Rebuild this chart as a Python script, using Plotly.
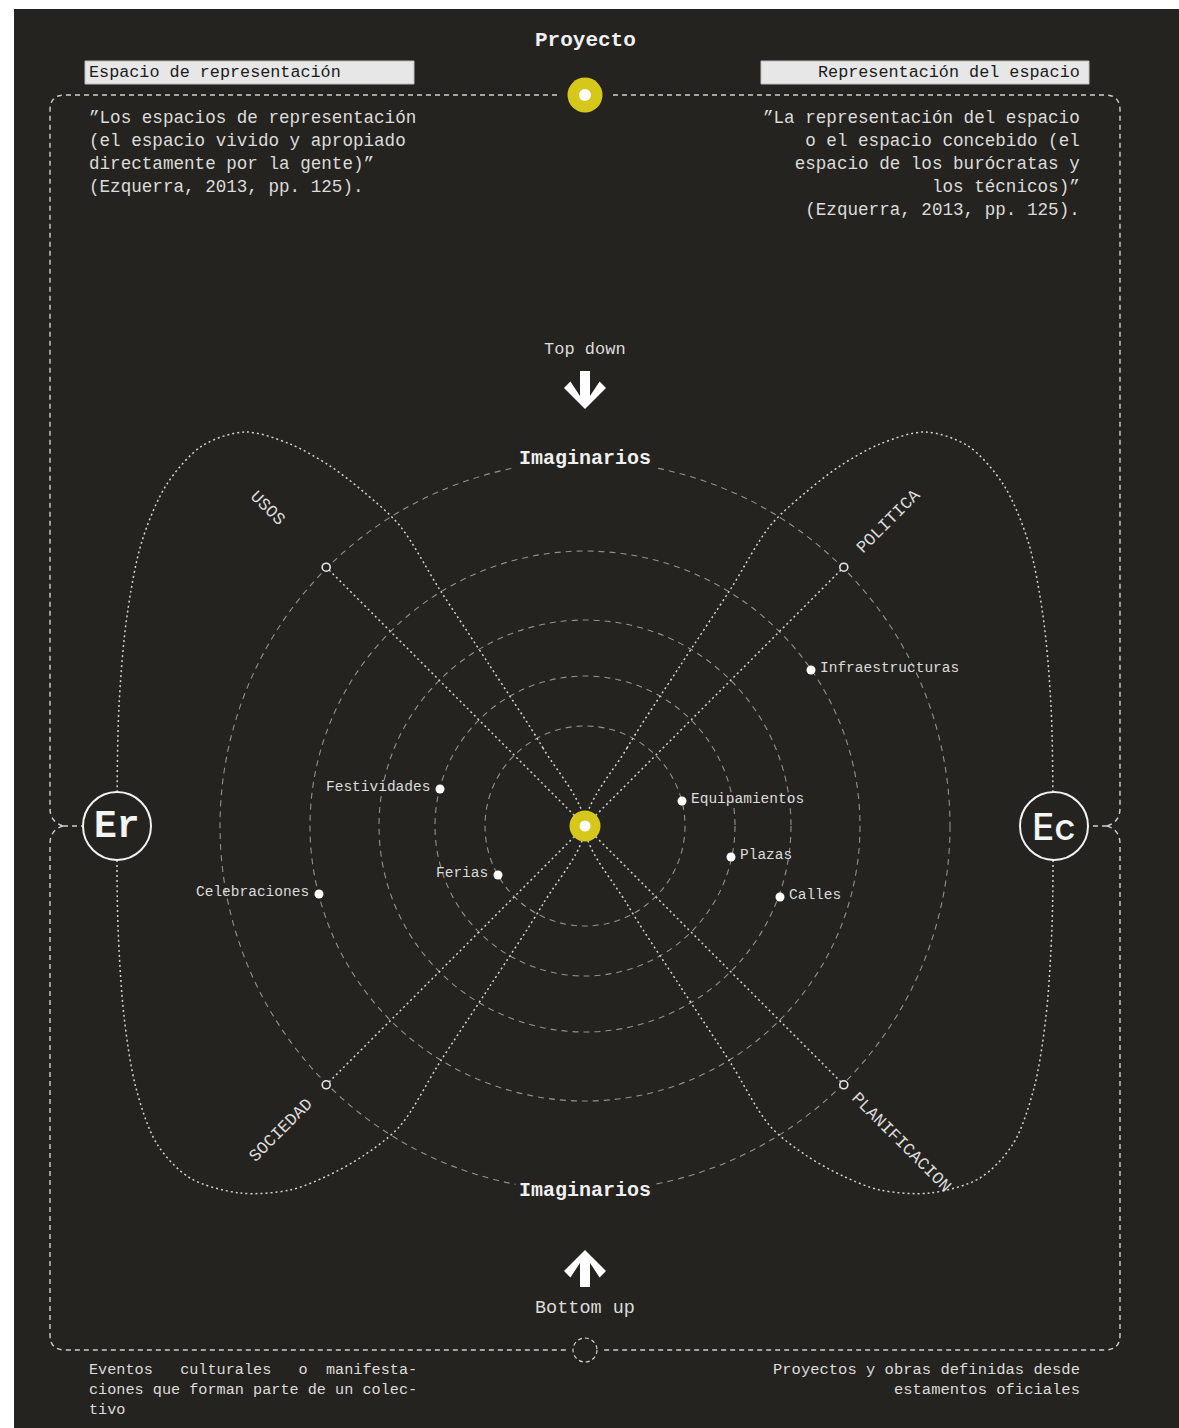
import math
import plotly.graph_objects as go

W, H = 1179, 1428
CX, CY = 585, 826          # hub position in the page (pixels)

# ---------------- data ----------------
ring_radii = [100, 150, 206, 275, 365]

axis_names = ["USOS", "POLITICA", "SOCIEDAD", "PLANIFICACION"]
axis_angles = [135, 45, 225, 315]
axis_radius = 366

point_labels = ["Festividades", "Ferias", "Celebraciones",
                "Equipamientos", "Plazas", "Calles", "Infraestructuras"]
point_x = [-145, -87, -266, 97, 146, 195, 226]
point_y = [37, -49, -68, 25, -31, -71, 156]
point_side = ["left", "left", "left", "right", "right", "right", "right"]

# left "wing" outline (the right one is its mirror image)
lobe_x = [0, -42, -95, -145, -185, -220, -255, -295, -340, -383, -418, -443, -458, -466, -468,
          -467, -461, -449, -428, -395, -345, -295, -258, -222, -185, -145, -95, -42, 0]
lobe_y = [0, 78, 160, 236, 300, 333, 360, 382, 394, 380, 342, 285, 210, 120, 0,
          -100, -190, -262, -318, -352, -367, -364, -350, -330, -300, -236, -160, -78, 0]

# ---------------- style ----------------
BG = "#252320"
YELLOW = "#d6c81a"
RING = "#92918d"
DOT = "#d2d2d0"
FRAME = "#cfcfcd"
TXT = "#dcdcda"
MONO = "Liberation Mono"


def px(xp):
    return xp - CX


def py(yp):
    return CY - yp


fig = go.Figure()
shapes = []
ann = []

# dark panel
shapes.append(dict(type="rect", xref="x", yref="y", layer="below",
                   x0=px(14), x1=px(W + 5), y0=py(9), y1=py(H + 5),
                   fillcolor=BG, line=dict(width=0)))

# concentric dashed rings
for r in ring_radii:
    shapes.append(dict(type="circle", xref="x", yref="y", layer="below",
                       x0=-r, x1=r, y0=-r, y1=r,
                       line=dict(color=RING, width=1.1, dash="6px,5px")))

# frame (dashed rounded outline)
L, R, T, B = px(50), px(1120), py(95), py(1350)
JL, JR = px(63), px(1107)
rc = 15
frame = (
    f"M {-28},{T} L {L+rc},{T} Q {L},{T} {L},{T-rc} L {L},{18} Q {L},{4} {JL},{0} "
    f"M {JL},{0} Q {L},{-4} {L},{-18} L {L},{B+rc} Q {L},{B} {L+rc},{B} L {-17},{B} "
    f"M {28},{T} L {R-rc},{T} Q {R},{T} {R},{T-rc} L {R},{18} Q {R},{4} {JR},{0} "
    f"M {JR},{0} Q {R},{-4} {R},{-18} L {R},{B+rc} Q {R},{B} {R-rc},{B} L {17},{B} "
    f"M {JL},0 L {px(84)},0 M {JR},0 L {px(1019)},0"
)
shapes.append(dict(type="path", xref="x", yref="y", layer="below", path=frame,
                   line=dict(color=FRAME, width=1.4, dash="5px,4px")))

# small dashed circle on the bottom edge
shapes.append(dict(type="circle", xref="x", yref="y", layer="below",
                   x0=-12, x1=12, y0=B - 12, y1=B + 12,
                   line=dict(color=FRAME, width=1.2, dash="4px,3px")))

# wings
for sgn in (1, -1):
    fig.add_trace(go.Scatter(
        x=[sgn * v for v in lobe_x], y=lobe_y, mode="lines", hoverinfo="skip",
        line=dict(color=DOT, width=1.5, dash="2px,3px", shape="spline", smoothing=0.9)))

# diagonal axes
ax_x = [axis_radius * math.cos(math.radians(a)) for a in axis_angles]
ax_y = [axis_radius * math.sin(math.radians(a)) for a in axis_angles]
for x1, y1 in zip(ax_x, ax_y):
    fig.add_trace(go.Scatter(x=[0, x1], y=[0, y1], mode="lines", hoverinfo="skip",
                             line=dict(color=DOT, width=1.5, dash="2px,3px")))
fig.add_trace(go.Scatter(x=ax_x, y=ax_y, mode="markers", hoverinfo="skip",
                         marker=dict(size=8, color=BG, opacity=1,
                                     line=dict(color="#e8e8e8", width=1.6))))

# axis labels
label_dist = {"USOS": 449, "POLITICA": 430, "SOCIEDAD": 430, "PLANIFICACION": 447}
for name, a in zip(axis_names, axis_angles):
    d = label_dist[name]
    ang = -45 if a in (45, 225) else 45
    ann.append(dict(x=d * math.cos(math.radians(a)), y=d * math.sin(math.radians(a)),
                    text=name, showarrow=False, textangle=ang,
                    font=dict(family=MONO, size=17, color=TXT)))

# data points
fig.add_trace(go.Scatter(x=point_x, y=point_y, mode="markers", hoverinfo="skip",
                         marker=dict(size=9, color="#ffffff", opacity=1)))
for lab, x, y, side in zip(point_labels, point_x, point_y, point_side):
    if side == "left":
        ann.append(dict(x=x - 8, y=y + 2, text=lab, showarrow=False, xanchor="right",
                        font=dict(family=MONO, size=14.5, color=TXT)))
    else:
        ann.append(dict(x=x + 7, y=y + 2, text=lab, showarrow=False, xanchor="left",
                        font=dict(family=MONO, size=14.5, color=TXT)))

# hub and project markers (yellow discs with white core)
for (cy, ro, ri) in ((0, 15.5, 5.5), (T, 17.5, 6)):
    shapes.append(dict(type="circle", xref="x", yref="y", layer="above",
                       x0=-ro, x1=ro, y0=cy - ro, y1=cy + ro,
                       fillcolor=YELLOW, line=dict(width=0)))
    shapes.append(dict(type="circle", xref="x", yref="y", layer="above",
                       x0=-ri, x1=ri, y0=cy - ri, y1=cy + ri,
                       fillcolor="#ffffff", line=dict(width=0)))

# Er / Ec circles
for cx in (px(117), px(1054)):
    shapes.append(dict(type="circle", xref="x", yref="y", layer="above",
                       x0=cx - 34, x1=cx + 34, y0=-34, y1=34,
                       fillcolor=BG, line=dict(color="#f2f2f2", width=2)))
ann.append(dict(x=px(117), y=0, text="Er", showarrow=False,
                font=dict(family=MONO, size=38, color="#f4f4f4", weight="bold")))
ann.append(dict(x=px(1054), y=0, text="Ec", showarrow=False,
                font=dict(family="Inter", size=37, color="#f4f4f4", weight=500)))


# arrows
def arrow_path(tip, tail, up):
    s = 1 if up else -1     # +1: arrow points up
    hw, head, th = 5, 21, 13
    pts = [(0, tip), (head, tip - s * head), (head - 6.4, tip - s * (head + 6.4)),
           (hw, tip - s * th), (hw, tail), (-hw, tail), (-hw, tip - s * th),
           (-(head - 6.4), tip - s * (head + 6.4)), (-head, tip - s * head)]
    return "M " + " L ".join(f"{x},{y}" for x, y in pts) + " Z"


shapes.append(dict(type="path", xref="x", yref="y", layer="above",
                   path=arrow_path(py(409), py(371), False),
                   fillcolor="#ffffff", line=dict(width=0)))
shapes.append(dict(type="path", xref="x", yref="y", layer="above",
                   path=arrow_path(py(1250), py(1287), True),
                   fillcolor="#ffffff", line=dict(width=0)))

# headline texts
ann += [
    dict(x=0, y=py(40), text="Proyecto", showarrow=False,
         font=dict(family=MONO, size=21, color="#f0f0f0", weight="bold")),
    dict(x=0, y=py(349), text="Top down", showarrow=False,
         font=dict(family=MONO, size=17, color=TXT)),
    dict(x=0, y=py(458), text="Imaginarios", showarrow=False, bgcolor=BG, borderpad=3,
         font=dict(family=MONO, size=20, color="#f0f0f0", weight="bold")),
    dict(x=0, y=py(1190), text="Imaginarios", showarrow=False, bgcolor=BG, borderpad=3,
         font=dict(family=MONO, size=20, color="#f0f0f0", weight="bold")),
    dict(x=0, y=py(1308), text="Bottom up", showarrow=False,
         font=dict(family=MONO, size=18.5, color=TXT)),
]

# label boxes
shapes.append(dict(type="rect", xref="x", yref="y", layer="above",
                   x0=px(85), x1=px(414), y0=py(61), y1=py(84),
                   fillcolor="#e7e7e7", line=dict(color="#bdbdbd", width=1)))
shapes.append(dict(type="rect", xref="x", yref="y", layer="above",
                   x0=px(761), x1=px(1089), y0=py(61), y1=py(84),
                   fillcolor="#e7e7e7", line=dict(color="#bdbdbd", width=1)))
ann.append(dict(x=px(87), y=py(72.5), text="Espacio de representación", showarrow=False,
                xanchor="left", font=dict(family=MONO, size=16.8, color="#1b1b1b")))
ann.append(dict(x=px(1082), y=py(72.5), text="Representación del espacio", showarrow=False,
                xanchor="right", font=dict(family=MONO, size=16.8, color="#1b1b1b")))

# quotes
ann.append(dict(x=px(87), y=py(152.5), showarrow=False, xanchor="left", align="left",
                text="\u201dLos espacios de representación<br>(el espacio vivido y apropiado<br>"
                     "directamente por la gente)\u201d<br>(Ezquerra, 2013, pp. 125).",
                font=dict(family=MONO, size=17.6, color=TXT)))
ann.append(dict(x=px(1082), y=py(164), showarrow=False, xanchor="right", align="right",
                text="\u201dLa representación del espacio<br>o el espacio concebido (el<br>"
                     "espacio de los burócratas y<br>los técnicos)\u201d<br>(Ezquerra, 2013, pp. 125).",
                font=dict(family=MONO, size=17.6, color=TXT)))

# bottom notes
nb = "\u00a0"
ann.append(dict(x=px(87), y=py(1389.5), showarrow=False, xanchor="left", align="left",
                text=f"Eventos{nb*3}culturales{nb*3}o{nb*2}manifesta-<br>"
                     "ciones que forman parte de un colec-<br>tivo",
                font=dict(family=MONO, size=15.2, color=TXT)))
ann.append(dict(x=px(1082), y=py(1379.5), showarrow=False, xanchor="right", align="right",
                text="Proyectos y obras definidas desde<br>estamentos oficiales",
                font=dict(family=MONO, size=15.5, color=TXT)))

fig.update_layout(
    width=W, height=H, autosize=False,
    margin=dict(l=0, r=0, t=0, b=0, pad=0),
    paper_bgcolor="#ffffff", plot_bgcolor="#ffffff",
    showlegend=False,
    xaxis=dict(range=[-CX, W - CX], visible=False, showgrid=False, zeroline=False, fixedrange=True),
    yaxis=dict(range=[CY - H, CY], visible=False, showgrid=False, zeroline=False, fixedrange=True),
    shapes=shapes, annotations=ann,
)

fig.write_html("out.html", config={"displayModeBar": False},
               post_script="document.body.style.margin='0px';document.body.style.overflow='hidden';")
